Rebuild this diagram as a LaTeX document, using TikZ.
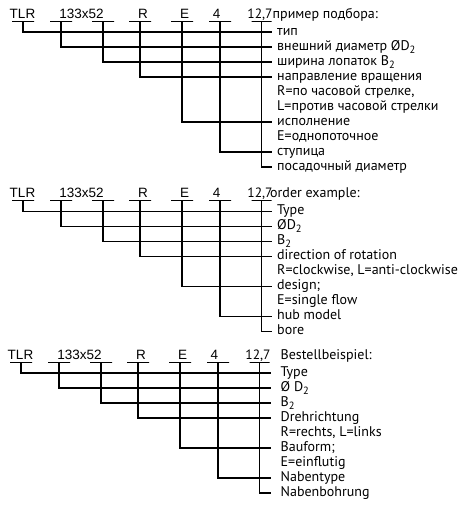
\documentclass[tikz,border=0pt]{standalone}
\usepackage{fontspec}
\usepackage{tikz}
\usetikzlibrary{positioning}
\newfontfamily\codefont{Liberation Sans}
\newfontfamily\itemfont{PT Sans}
\newcommand{\idx}[1]{\raisebox{-0.4ex}{\fontsize{10.5}{10.5}\selectfont #1}}

\begin{document}
\begin{tikzpicture}[
        x=1pt, y=-1pt,
        node distance=15pt,
        on grid,
        code/.style={font={\codefont\fontsize{13.5}{15}\selectfont}, anchor=base, inner sep=0pt},
        num/.style={code, font={\itemfont\fontsize{13.5}{15}\selectfont}},
        bar/.style={draw, line width=1.1pt, minimum width=22pt, minimum height=0pt, inner sep=0pt},
        head/.style={font={\itemfont\fontsize{14}{15}\selectfont}, anchor=base west, inner sep=0pt},
        item/.style={font={\itemfont\fontsize{14}{15}\selectfont}, anchor=west, inner xsep=5pt, inner ysep=0pt, text height=9.5pt, text depth=3pt},
        lead/.style={line width=1.1pt}
    ]
    \useasboundingbox (0,0) rectangle (464,505);

    % type codes with their bars, same for all three languages
    \foreach \b/\dx/\dy in {ru/0/0, en/0/179, de/-2/341} {
        \begin{scope}[shift={(\dx,\dy)}]
            \node[code] (\b-tlr) at (22.5,18.3) {TLR};
            \node[code] (\b-size) at (81.5,18.3) {133x52};
            \node[code] (\b-rot) at (143,18.3) {R};
            \node[code] (\b-des) at (184.5,18.3) {E};
            \node[code] (\b-hub) at (216.5,18.3) {4};
            \node[num] (\b-bore) at (260,18.8) {12,7};
            \node[bar] (\b-tlr-u) at (23,21.7) {};
            \node[bar] (\b-dia-u) at (61,21.7) {};
            \node[bar] (\b-wid-u) at (103,21.7) {};
            \node[bar] (\b-rot-u) at (140,21.7) {};
            \node[bar] (\b-des-u) at (182,21.7) {};
            \node[bar] (\b-hub-u) at (220,21.7) {};
            \node[bar, minimum width=20pt] (\b-bore-u) at (261.5,21.7) {};
        \end{scope}
    }

    % russian
    \node[head] (ru-head) at (272.5,18.3) {пример подбора:};
    \node[item] (ru1) at (272,32) {тип};
    \node[below=of ru1.west, item] (ru2) {внешний диаметр ØD\idx{2}};
    \node[below=of ru2.west, item] (ru3) {ширина лопаток B\idx{2}};
    \node[below=of ru3.west, item] (ru4) {направление вращения};
    \node[below=of ru4.west, item] (ru5) {R=по часовой стрелке,};
    \node[below=of ru5.west, item] (ru6) {L=против часовой стрелки};
    \node[below=of ru6.west, item] (ru7) {исполнение};
    \node[below=of ru7.west, item] (ru8) {E=однопоточное};
    \node[below=of ru8.west, item] (ru9) {ступица};
    \node[below=of ru9.west, item] (ru10) {посадочный диаметр};

    % english
    \node[head] (en-head) at (270,197.3) {order example:};
    \node[item] (en1) at (272,211.5) {Type};
    \node[below=of en1.west, item] (en2) {ØD\idx{2}};
    \node[below=of en2.west, item] (en3) {B\idx{2}};
    \node[below=of en3.west, item] (en4) {direction of rotation};
    \node[below=of en4.west, item] (en5) {R=clockwise, L=anti-clockwise};
    \node[below=of en5.west, item] (en6) {design;};
    \node[below=of en6.west, item] (en7) {E=single flow};
    \node[below=of en7.west, item] (en8) {hub model};
    \node[below=of en8.west, item] (en9) {bore};

    % german
    \begin{scope}[item/.append style={inner xsep=10pt}]
        \node[head] (de-head) at (280.5,359.3) {Bestellbeispiel:};
        \node[item] (de1) at (270.5,373) {Type};
        \node[below=of de1.west, item] (de2) {Ø D\idx{2}};
        \node[below=of de2.west, item] (de3) {B\idx{2}};
        \node[below=of de3.west, item] (de4) {Drehrichtung};
        \node[below=of de4.west, item] (de5) {R=rechts, L=links};
        \node[below=of de5.west, item] (de6) {Bauform;};
        \node[below=of de6.west, item] (de7) {E=einflutig};
        \node[below=of de7.west, item] (de8) {Nabentype};
        \node[below=of de8.west, item] (de9) {Nabenbohrung};
    \end{scope}

    \foreach \u/\r in {tlr/1, dia/2, wid/3, rot/4, des/7, hub/9, bore/10}
        \draw[lead] (ru-\u-u.center) |- (ru\r.west);
    \foreach \b in {en, de}
        \foreach \u/\r in {tlr/1, dia/2, wid/3, rot/4, des/6, hub/8, bore/9}
            \draw[lead] (\b-\u-u.center) |- (\b\r.west);
\end{tikzpicture}
\end{document}
